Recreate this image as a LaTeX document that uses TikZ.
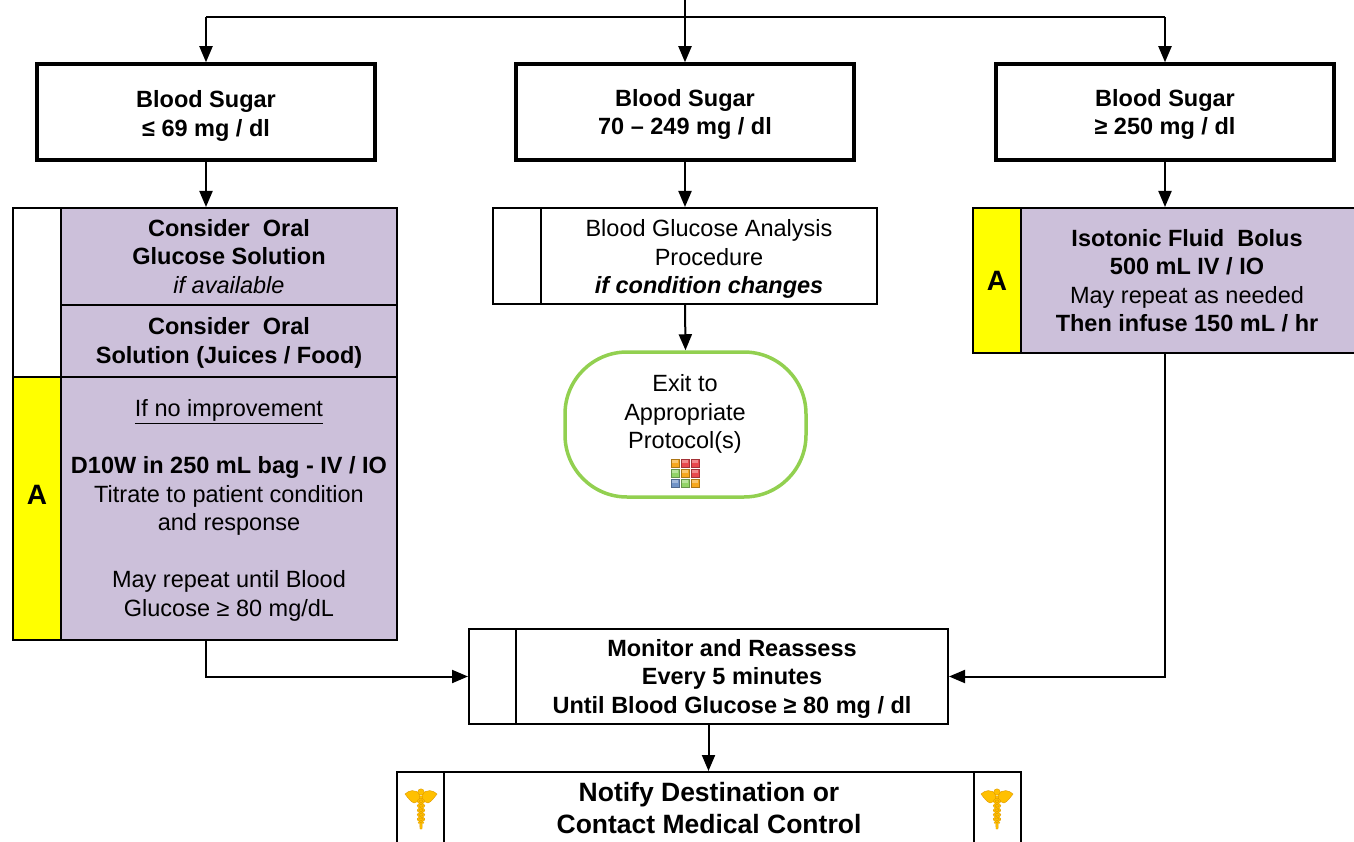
\documentclass[tikz,border=0pt]{standalone}
\usepackage{fontspec}
\setmainfont{Liberation Sans}
\usetikzlibrary{arrows.meta,calc}
\definecolor{lav}{HTML}{CCC0DA}
\definecolor{yel}{HTML}{FFFF00}
\definecolor{grn}{HTML}{92D050}
\definecolor{gold}{HTML}{FFC000}
\definecolor{golddk}{HTML}{E09A00}
\definecolor{icOr}{HTML}{F7A81E}
\definecolor{icRd}{HTML}{E8484E}
\definecolor{icGn}{HTML}{92D468}
\definecolor{icBl}{HTML}{6F93C8}
\begin{document}
\begin{tikzpicture}[x=1pt,y=-1pt,
 txt/.style={font=\fontsize{23.5}{28.5}\selectfont, align=center, inner sep=0pt},
 btxt/.style={txt, font=\fontsize{23.5}{28.5}\selectfont\bfseries},
 cell/.style={draw=black, line width=2pt, inner sep=0pt, anchor=center, txt},
 hbox/.style={draw=black, line width=3.5pt, inner sep=0pt, fill=white},
 bigA/.style={font=\fontsize{28}{30}\selectfont\bfseries, inner sep=0pt},
 arr/.style={line width=2pt, -{Triangle[length=16pt,width=13pt]}},
 ln/.style={line width=2pt},
 cad/.pic={
   \fill[gold, draw=golddk, line width=0.4pt] (-2,-12) -- (2,-12) -- (1,21) -- (-1,21) -- cycle;
   \foreach \s in {1,-1}{
     \fill[gold, draw=golddk, line width=0.4pt] (\s*1,-14) .. controls (\s*6,-19) and (\s*12,-18) .. (\s*16,-14)
        .. controls (\s*13,-10) and (\s*10,-6) .. (\s*7,-5) -- (\s*2,-7) -- cycle;
     \draw[golddk, line width=1.8pt, domain=-9:15, samples=30, variable=\t] plot ({\s*3*sin(\t*40)}, {\t});
     \draw[gold, line width=0.9pt, domain=-9:15, samples=30, variable=\t] plot ({\s*3*sin(\t*40)}, {\t});
   }
   \fill[gold, draw=golddk, line width=0.4pt] (0,-16) circle (3.2);
 },
]
\useasboundingbox (0,0) rectangle (1354,842);

% top row
\node[hbox, minimum width=338pt, minimum height=96pt] (l1) at (206,112) {};
\node[hbox, minimum width=338pt, minimum height=96pt] (m1) at (685,112) {};
\node[hbox, minimum width=338pt, minimum height=96pt] (r1) at (1165,112) {};
\node[btxt] (l1t) at (206,116) {Blood Sugar\\≤ 69 mg / dl};
\node[btxt] (m1t) at (685,114.5) {Blood Sugar\\70 – 249 mg / dl};
\node[btxt] (r1t) at (1165,114.5) {Blood Sugar\\≥ 250 mg / dl};

% left group
\node[cell, fill=white, minimum width=48pt, minimum height=169pt] (lw) at (37,292.5) {};
\node[cell, fill=lav, minimum width=336pt, minimum height=97pt] (lp1) at (229,256.5)
  {\textbf{Consider~ Oral}\\\textbf{Glucose Solution}\\\textit{if available}};
\node[cell, fill=lav, minimum width=336pt, minimum height=72pt] (lp2) at (229,341) {};
\node[btxt] (lp2t) at (229,343) {Consider~ Oral\\Solution (Juices / Food)};
\node[cell, fill=yel, minimum width=48pt, minimum height=263pt] (ly) at (37,508.5) {};
\node[bigA] (lA) at (37,495) {A};
\node[cell, fill=lav, minimum width=336pt, minimum height=263pt] (lp3) at (229,508.5) {};
\node[txt] (lp3t) at (229,510.5)
  {\underline{If no improvement}\\[28.5pt]\textbf{D10W in 250 mL bag - IV / IO}\\Titrate to patient condition\\and response\\[28.5pt]May repeat until Blood\\Glucose ≥ 80 mg/dL};

% middle group
\node[cell, fill=white, minimum width=48pt, minimum height=96pt] (mw) at (517,256) {};
\node[cell, fill=white, minimum width=336pt, minimum height=96pt] (mp) at (709,256) {};
\node[txt] (mpt) at (709,259)
  {Blood Glucose Analysis\\Procedure\\\textbf{\textit{if condition changes}}};
\node[draw=grn, line width=3.5pt, fill=white, rounded corners=62pt, minimum width=241pt, minimum height=145pt, inner sep=0pt] (ex) at (685.5,424.5) {};
\node[txt] (ext) at (685,414) {Exit to\\Appropriate\\Protocol(s)};
\begin{scope}[shift={(685,473)}]
  \foreach \cx/\cy/\cl in {0/0/icOr,1/0/icRd,2/0/icRd,0/1/icGn,1/1/icOr,2/1/icRd,0/2/icBl,1/2/icGn,2/2/icOr}{
    \draw[fill=\cl, draw=\cl!70!black, line width=0.6pt] (\cx*10-14,\cy*10-14) rectangle +(8,8);
    \fill[white, opacity=0.35] (\cx*10-13,\cy*10-13) rectangle +(6,2.5);
  }
\end{scope}

% right group
\node[cell, fill=yel, minimum width=48pt, minimum height=145pt] (ry) at (997,280.5) {};
\node[bigA] (rA) at (997,281) {A};
\node[cell, fill=lav, minimum width=340pt, minimum height=145pt] (rp) at (1191,280.5) {};
\node[txt] (rpt) at (1187,280.5)
  {\textbf{Isotonic Fluid~ Bolus}\\\textbf{500 mL IV / IO}\\May repeat as needed\\\textbf{Then infuse 150 mL / hr}};

% monitor
\node[cell, fill=white, minimum width=479pt, minimum height=95pt] (mon) at (708.5,676.5) {};
\draw[ln] ($(mon.north west)+(48,0)$) -- ($(mon.south west)+(48,0)$);
\node[btxt] (mont) at (732,678.5)
  {Monitor and Reassess\\Every 5 minutes\\Until Blood Glucose ≥ 80 mg / dl};

% notify
\node[cell, fill=white, minimum width=624pt, minimum height=80pt] (nt) at (709,812) {};
\draw[ln] ($(nt.north west)+(48,0)$) -- ($(nt.south west)+(48,0)$);
\draw[ln] ($(nt.north east)+(-48,0)$) -- ($(nt.south east)+(-48,0)$);
\node[txt, font=\fontsize{26.5}{32}\selectfont\bfseries] (ntt) at (709,808)
  {Notify Destination or\\Contact Medical Control};
\pic (cadL) at (421,808) {cad};
\pic (cadR) at (997,808) {cad};

% connectors
\coordinate (top) at (685,-3);
\coordinate (tj) at (685,17);
\draw[ln] (top) -- (tj);
\draw[ln] (l1.north |- tj) -- (r1.north |- tj);
\draw[arr] (l1.north |- tj) -- (l1.north);
\draw[arr] (tj) -- (m1.north);
\draw[arr] (r1.north |- tj) -- (r1.north);
\draw[arr] (l1.south) -- (l1.south |- lp1.north);
\draw[arr] (m1.south) -- (m1.south |- mp.north);
\draw[arr] (r1.south) -- (r1.south |- rp.north);
\draw[arr] (m1.south |- mp.south) -- (ex.north);
\draw[arr] (l1.south |- lp3.south) -- (l1.south |- mon.west) -- (mon.west);
\draw[arr] (r1.south |- rp.south) -- (r1.south |- mon.east) -- (mon.east);
\draw[arr] (mon.south) -- (mon.south |- nt.north);
\end{tikzpicture}
\end{document}
